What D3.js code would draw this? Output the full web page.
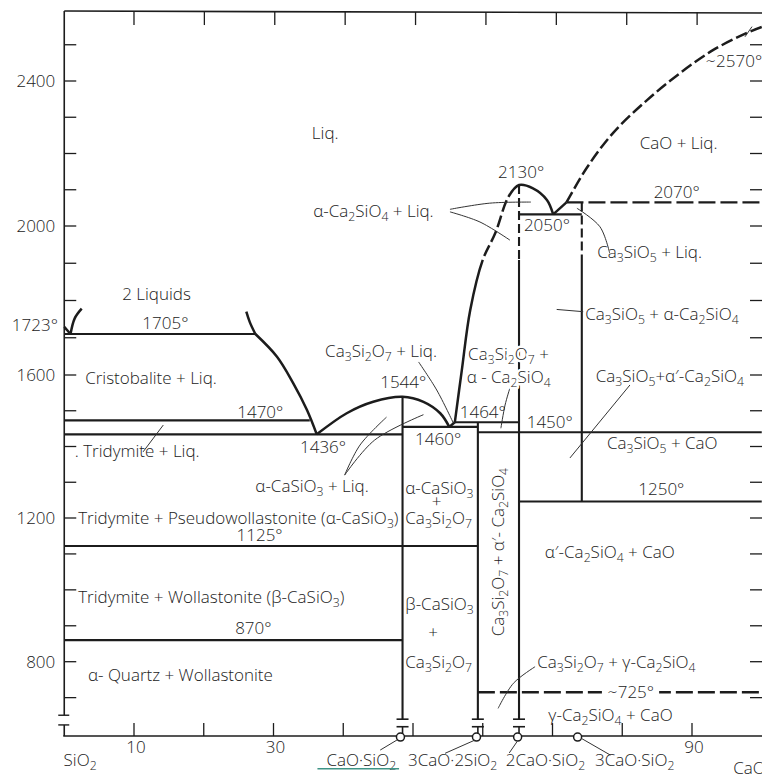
<!DOCTYPE html>
<html><head><meta charset="utf-8">
<script src="https://cdn.jsdelivr.net/npm/d3@7"></script>
<style>
html,body{margin:0;padding:0;background:#fff;}
svg{display:block;}
text{font-family:"Open Sans","DejaVu Sans",sans-serif;fill:#222;font-size:17px;font-weight:300;}
.halo{paint-order:stroke;stroke:#fff;stroke-width:5px;stroke-linejoin:round;}
</style></head><body>
<svg id="c" width="762" height="776"></svg>
<script>
// ---------------- data: x = wt% CaO, y = temperature (°C) ----------------
const compTicks = [10,20,30,40,50,60,70,80,90];
const compTickLabels = [10,30,90];
const tempTicks = [700,800,900,1000,1100,1200,1300,1400,1500,1600,1700,1800,1900,2000,2100,2200,2300,2400,2500];
const tempTickLabels = [800,1200,1600,2000,2400];
const frameT = [593,2593];
const axisBreakT = [651,624];

// isotherms [T, from wt%, to wt%]
const solidIsotherms = [[1710,0,27.4],[1473,0,35.2],[1434,0,48.5],[1455,48.5,59.3],[1468,56.0,65.2],
  [1440,59.3,100],[1246,65.2,100],[1122,0,59.3],[860,0,48.5],[2032,65.2,74.2]];
const dashedIsotherms = [[715,59.3,100],[2065,72.0,100]];

// compound verticals [wt%, top T, bottom T]
const solidVerticals = [[48.5,1539,640],[59.3,1468,640],[65.2,1909,640],[74.2,1909,1246]];
const dashedVerticals = [[65.2,2113,1909],[74.2,2065,1909]];
const compoundMarks = [48.2,59.1,65.0,73.6];
const compoundFeet = [48.5,59.3,65.2];
const footT = [640,619];

// liquidus / boundary curves [wt%, T]
const liqSiO2 = [[0,1729],[0.9,1710]];
const gapLeft = [[0.9,1710],[1.5,1752],[2.5,1778]];
const gapRight = [[26.1,1770],[26.6,1742],[27.4,1710]];
const liqCristobalite = [[27.4,1710],[30.5,1649],[32.8,1578],[34.8,1502],[36.2,1434]];
const liqWollastonite = [[36.2,1434],[40.5,1493],[44.3,1525],[48.5,1539],[51.5,1525],[53.9,1493],[55.2,1455]];
const liqC3S2 = [[55.2,1455],[56.0,1468]];
const liqC2S = [[56.0,1468],[57.0,1613],[58.2,1774],[60.0,1909],[61.8,1981],[63.7,2081],[65.2,2113],[67.2,2104],[69.2,2072],[70.1,2032]];
const liqC2SDashedT = [1909,2081];   // part of the left branch drawn dashed
const liqC3S = [[70.1,2032],[72.0,2065]];
const liqCaO = [[72.0,2065],[74.9,2160],[78.7,2257],[83.6,2348],[88.3,2422],[93.0,2485],[97.8,2532],[100,2549]];

// leader lines
const leaderLines = [
  [[55.3,2046],[61.0,2063],[66.9,2066]],
  [[55.3,2039],[59.6,2011],[63.9,1962]],
  [[78.2,1927],[76.8,1998],[73.5,2049]],
  [[70.6,1776],[74.4,1770]],
  [[81.1,1572],[72.5,1368]],
  [[50.8,1635],[53.4,1558],[55.8,1465]],
  [[63.9,1564],[63.2,1516],[62.6,1451]],
  [[40.2,1320],[42.4,1404],[46.2,1482]],
  [[40.2,1320],[44.5,1418],[51.5,1489]],
  [[11.3,1385],[14.2,1460]],
  [[67.5,786],[64.4,740],[62.2,670]],
  [[97.6,2522],[98.6,2550]],
  [[47.7,582],[45.3,554]],
  [[58.9,582],[54.6,545]],
  [[64.9,577],[63.8,546]],
  [[74.1,587],[78.3,540]]
];

// labels [text, wt%, T]
const startLabels = [
  ["Liq.",35.5,2240],["α-Ca_2SiO_4 + Liq.",35.7,2025],["CaO + Liq.",82.5,2212],
  ["2130°",62.2,2132],["2070°",84.5,2077],["2050°",65.9,1987],["∼2570°",91.9,2439],
  ["Ca_3SiO_5 + Liq.",76.4,1914],["2 Liquids",8.3,1801],["1705°",11.2,1723],
  ["Ca_3SiO_5 + α-Ca_2SiO_4",74.7,1748],["Ca_3Si_2O_7 + Liq.",37.4,1648],["1544°",45.3,1564],
  ["Cristobalite + Liq.",3.0,1575],["Ca_3SiO_5+α′-Ca_2SiO_4",76.2,1580],["1470°",24.8,1480],
  ["1464°",56.7,1480],["1450°",66.3,1452],["1436°",33.8,1382],["1460°",50.3,1404],
  ["Ca_3SiO_5 + CaO",77.8,1393],[". Tridymite + Liq.",1.5,1371],["α-CaSiO_3 + Liq.",27.4,1273],
  ["1250°",82.3,1264],["α-CaSiO_3",48.9,1267],["Ca_3Si_2O_7",48.9,1183],
  ["Tridymite + Pseudowollastonite (α-CaSiO_3)",2.0,1183],["1125°",24.7,1136],
  ["α′-Ca_2SiO_4 + CaO",68.9,1089],["Tridymite + Wollastonite  (β-CaSiO_3)",2.0,963],
  ["β-CaSiO_3",48.9,944],["Ca_3Si_2O_7",48.9,783],["870°",24.5,877],
  ["α- Quartz + Wollastonite",3.4,746],["Ca_3Si_2O_7 + γ-Ca_2SiO_4",67.8,783],
  ["γ-Ca_2SiO_4 + CaO",69.4,635]
];
const haloLabels = [["Ca_3Si_2O_7 +",57.9,1640],["α - Ca_2SiO_4",57.7,1578]];
const boxedLabels = [["∼725°",77.8,699]];
const plusLabels = [["+",53.4,1232],["+",52.9,866]];
const rotatedLabels = [["Ca_3Si_2O_7 + α′- Ca_2SiO_4",63.1,1105]];
const endLabels = [["1723°",-0.9,1718]];
const compoundNames = [["CaO·SiO_2",37.6,510],["3CaO·2SiO_2",49.3,510],["2CaO·SiO_2",63.3,510],["3CaO·SiO_2",76.1,510],["SiO_2",-0.1,510],["CaO",95.9,488]];
const underline = [[36.3,502],[48.0,502]];

// ---------------- drawing ----------------
const svg = d3.select("#c");
svg.append("rect").attr("width",762).attr("height",776).attr("fill","#fff");
const x = d3.scaleLinear().domain([0,100]).range([64.25,761.75]);
const xTop = d3.scaleLinear().domain([0,100]).range([63.6,767.5]);
const y = d3.scaleLinear().domain([800,1200,1600,2000,2400]).range([661.7,518,375,226,81]);

const INK = "#1c1c1c";
const smooth = d3.line().x(d=>x(d[0])).y(d=>y(d[1])).curve(d3.curveCatmullRom.alpha(0.5));
const straight = d3.line().x(d=>x(d[0])).y(d=>y(d[1]));

function rich(t, s){
  let shift = 0;
  s.split(/(_[0-9]+)/).forEach(p=>{
    if(!p) return;
    if(p[0]==="_"){ t.append("tspan").attr("dy",4-shift).style("font-size","0.72em").text(p.slice(1)); shift=4; }
    else { t.append("tspan").attr("dy",-shift).text(p); shift=0; }
  });
  return t;
}

const g = svg.append("g");
// frame / axes
const x0 = x(0), yB = y(frameT[0]), yT = y(frameT[1]);
g.append("line").attr("x1",x0).attr("x2",762).attr("y1",yT).attr("y2",yT+2).attr("stroke",INK).attr("stroke-width",1.6);
g.append("line").attr("x1",x0-1).attr("x2",762).attr("y1",yB).attr("y2",yB).attr("stroke",INK).attr("stroke-width",1.6);
g.append("line").attr("x1",x0).attr("x2",x0).attr("y1",yT).attr("y2",y(axisBreakT[0])).attr("stroke",INK).attr("stroke-width",1.6);
g.append("line").attr("x1",x0).attr("x2",x0).attr("y1",y(axisBreakT[1])).attr("y2",yB).attr("stroke",INK).attr("stroke-width",1.6);
axisBreakT.forEach(t=>g.append("line").attr("x1",x0-6).attr("x2",x0+5).attr("y1",y(t)).attr("y2",y(t)).attr("stroke",INK).attr("stroke-width",1.4));

tempTicks.forEach(t=>{
  g.append("line").attr("x1",x0).attr("x2",x0+12).attr("y1",y(t)).attr("y2",y(t)).attr("stroke",INK).attr("stroke-width",1.3);
  g.append("line").attr("x1",750).attr("x2",762).attr("y1",y(t)).attr("y2",y(t)).attr("stroke",INK).attr("stroke-width",1.3);
});
tempTickLabels.forEach(t=>{
  g.append("text").attr("x",x0-9).attr("y",y(t)+6).attr("text-anchor","end").text(t);
});
compTicks.forEach(c=>{
  g.append("line").attr("x1",x(c)).attr("x2",x(c)).attr("y1",yB).attr("y2",yB-13).attr("stroke",INK).attr("stroke-width",1.3);
  g.append("line").attr("x1",xTop(c)).attr("x2",xTop(c)).attr("y1",yT+1).attr("y2",yT+14).attr("stroke",INK).attr("stroke-width",1.3);
});
compTickLabels.forEach(c=>{
  g.append("text").attr("x",x(c)+2).attr("y",yB+17).attr("text-anchor","middle").text(c);
});

// isotherms
solidIsotherms.forEach(d=>g.append("line").attr("x1",x(d[1])).attr("x2",x(d[2])).attr("y1",y(d[0])).attr("y2",y(d[0])).attr("stroke",INK).attr("stroke-width",2.1));
dashedIsotherms.forEach(d=>g.append("line").attr("x1",x(d[1])).attr("x2",x(d[2])).attr("y1",y(d[0])).attr("y2",y(d[0])).attr("stroke",INK).attr("stroke-width",2.3).attr("stroke-dasharray","17,5"));
solidVerticals.forEach(d=>g.append("line").attr("x1",x(d[0])).attr("x2",x(d[0])).attr("y1",y(d[1])).attr("y2",y(d[2])).attr("stroke",INK).attr("stroke-width",2.1));
dashedVerticals.forEach(d=>g.append("line").attr("x1",x(d[0])).attr("x2",x(d[0])).attr("y1",y(d[1])).attr("y2",y(d[2])).attr("stroke",INK).attr("stroke-width",2.1).attr("stroke-dasharray","9,4"));

// compound feet and marks
compoundFeet.forEach(c=>{
  g.append("line").attr("x1",x(c)-6).attr("x2",x(c)+6).attr("y1",y(footT[0])).attr("y2",y(footT[0])).attr("stroke",INK).attr("stroke-width",1.6);
  g.append("line").attr("x1",x(c)-6).attr("x2",x(c)+6).attr("y1",y(footT[1])).attr("y2",y(footT[1])).attr("stroke",INK).attr("stroke-width",1.6);
  g.append("line").attr("x1",x(c)).attr("x2",x(c)).attr("y1",y(footT[1])).attr("y2",yB).attr("stroke",INK).attr("stroke-width",1.6);
});
compoundMarks.forEach(c=>g.append("circle").attr("cx",x(c)).attr("cy",yB+1).attr("r",4).attr("fill","#fff").attr("stroke",INK).attr("stroke-width",1.5));

// curves
[liqSiO2,gapLeft,gapRight,liqCristobalite,liqWollastonite,liqC3S2,liqC3S].forEach(d=>
  g.append("path").attr("d",smooth(d)).attr("fill","none").attr("stroke",INK).attr("stroke-width",2.5));
g.append("path").attr("d",smooth(liqCaO)).attr("fill","none").attr("stroke",INK).attr("stroke-width",2.5).attr("stroke-dasharray","12,4");

// Ca2SiO4 liquidus: one smooth path, solid - dashed - solid
const c2s = g.append("path").attr("d",smooth(liqC2S)).attr("fill","none").attr("stroke",INK).attr("stroke-width",2.5);
(function(){
  const node = c2s.node(), total = node.getTotalLength();
  const yA = y(liqC2SDashedT[0]), yZ = y(liqC2SDashedT[1]);
  let L1 = 0, L2 = 0;
  for(let l=0;l<=total;l+=0.5){ const p=node.getPointAtLength(l); if(!L1 && p.y<=yA) L1=l; if(!L2 && p.y<=yZ){L2=l;break;} }
  const arr=[L1]; let pos=L1;
  while(pos<L2-12){ arr.push(4,12); pos+=16; }
  arr.push(4,total);
  c2s.attr("stroke-dasharray",arr.join(","));
})();

// leaders
leaderLines.forEach(d=>g.append("path").attr("d",(d.length>2?smooth:straight)(d)).attr("fill","none").attr("stroke","#333").attr("stroke-width",1));

// labels
startLabels.forEach(d=>rich(g.append("text").attr("x",x(d[1])).attr("y",y(d[2])),d[0]));
haloLabels.forEach(d=>rich(g.append("text").attr("class","halo").attr("x",x(d[1])).attr("y",y(d[2])),d[0]));
boxedLabels.forEach(d=>{
  const t = rich(g.append("text").attr("x",x(d[1])).attr("y",y(d[2])),d[0]);
  const b = t.node().getBBox();
  g.insert("rect",()=>t.node()).attr("x",b.x-5).attr("y",b.y+2).attr("width",b.width+10).attr("height",b.height-4).attr("fill","#fff");
});
plusLabels.forEach(d=>rich(g.append("text").attr("text-anchor","middle").attr("x",x(d[1])).attr("y",y(d[2])),d[0]));
endLabels.forEach(d=>rich(g.append("text").attr("text-anchor","end").attr("x",x(d[1])).attr("y",y(d[2])),d[0]));
rotatedLabels.forEach(d=>rich(g.append("text").attr("text-anchor","middle")
  .attr("transform",`translate(${x(d[1])},${y(d[2])}) rotate(-90)`),d[0]));
compoundNames.forEach(d=>rich(g.append("text").attr("x",x(d[1])).attr("y",y(d[2])),d[0]));
g.append("path").attr("d",straight(underline)).attr("stroke","#3f9486").attr("stroke-width",1.6).attr("fill","none");
</script>
</body></html>
